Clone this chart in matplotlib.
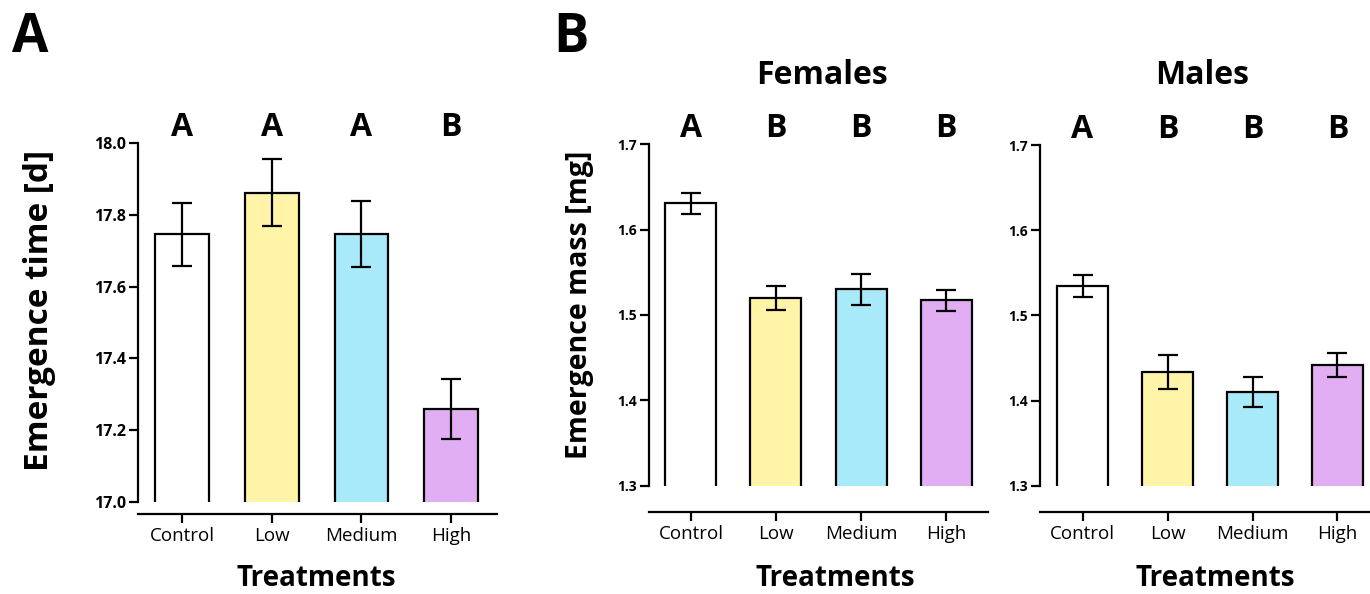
import matplotlib
matplotlib.use("Agg")
import matplotlib.pyplot as plt
import matplotlib.transforms as mtransforms

plt.rcParams['font.family'] = ['Open Sans', 'DejaVu Sans']

treatments = ["Control", "Low", "Medium", "High"]
bar_colors = ["#ffffff", "#fff4a8", "#a8eafa", "#e2aef3"]

# panel A: emergence time
time_mean = [17.746, 17.862, 17.746, 17.258]
time_err = [0.087, 0.093, 0.092, 0.084]
time_letters = ["A", "A", "A", "B"]

# panel B: emergence mass
fem_mean = [1.631, 1.520, 1.530, 1.517]
fem_err = [0.0125, 0.014, 0.018, 0.012]
fem_letters = ["A", "B", "B", "B"]

male_mean = [1.534, 1.433, 1.410, 1.442]
male_err = [0.013, 0.020, 0.018, 0.014]
male_letters = ["A", "B", "B", "B"]

W, H = 1370, 594
fig = plt.figure(figsize=(13.7, 5.94), dpi=100)


def px_axes(x0, x1, ytop, ybot):
    return fig.add_axes([x0 / W, 1 - ybot / H, (x1 - x0) / W, (ybot - ytop) / H])


def draw_panel(ax, means, errs, letters, ylim, yticks, fmt, xlim, offset, ticksize):
    # move the spine first: set_position resets the ticks
    for s in ["top", "right"]:
        ax.spines[s].set_visible(False)
    ax.spines["left"].set_linewidth(1.6)
    ax.spines["bottom"].set_linewidth(1.6)
    ax.spines["bottom"].set_position(("outward", offset))

    x = range(len(means))
    base = ylim[0] - (ylim[1] - ylim[0])
    heights = [m - base for m in means]
    ax.bar(x, heights, bottom=base, width=0.6, color=bar_colors,
           edgecolor="black", linewidth=1.6, zorder=2)
    ax.errorbar(x, means, yerr=errs, fmt="none", ecolor="black",
                elinewidth=1.6, capsize=7.5, capthick=1.6, zorder=3)
    ax.set_ylim(*ylim)
    ax.set_xlim(*xlim)
    ax.set_yticks(yticks)
    ax.set_yticklabels([fmt % v for v in yticks], fontweight="bold", fontsize=ticksize)
    ax.set_xticks(list(x))
    ax.set_xticklabels(treatments, fontsize=13.5)
    ax.tick_params(axis="both", width=1.6, length=6.5, direction="out")
    ax.tick_params(axis="x", pad=3)
    ax.tick_params(axis="y", pad=2)
    trans = mtransforms.blended_transform_factory(ax.transData, ax.transAxes)
    for xi, lt in zip(x, letters):
        ax.text(xi, 1.045, lt, transform=trans, ha="center", va="center",
                fontsize=23, fontweight="bold")
    ax.patch.set_alpha(0)


axA = px_axes(138, 497, 143.3, 501.7)
draw_panel(axA, time_mean, time_err, time_letters, (17.0, 18.0),
           [17.0, 17.2, 17.4, 17.6, 17.8, 18.0], "%.1f", (-0.49, 3.51), 9, 11.5)

axF = px_axes(649, 988, 144.3, 485.7)
draw_panel(axF, fem_mean, fem_err, fem_letters, (1.3, 1.7),
           [1.3, 1.4, 1.5, 1.6, 1.7], "%.1f", (-0.494, 3.494), 19, 10)

axM = px_axes(1040, 1380, 145, 485.7)
draw_panel(axM, male_mean, male_err, male_letters, (1.3, 1.7),
           [1.3, 1.4, 1.5, 1.6, 1.7], "%.1f", (-0.5, 3.5), 19, 10)

# panel labels and titles
fig.text(12 / W, 1 - 38 / H, "A", fontsize=38, fontweight="bold", va="center", ha="left")
fig.text(553 / W, 1 - 38 / H, "B", fontsize=38, fontweight="bold", va="center", ha="left")
fig.text(822 / W, 1 - 75 / H, "Females", fontsize=23, fontweight="bold", ha="center", va="center")
fig.text(1202 / W, 1 - 75 / H, "Males", fontsize=23, fontweight="bold", ha="center", va="center")

# axis titles
fig.text(40 / W, 1 - 310 / H, "Emergence time [d]", rotation=90, fontsize=24,
         fontweight="bold", ha="center", va="center")
fig.text(580 / W, 1 - 305 / H, "Emergence mass [mg]", rotation=90, fontsize=20.5,
         fontweight="bold", ha="center", va="center")
for cx in [316, 835, 1215]:
    fig.text(cx / W, 1 - 579 / H, "Treatments", fontsize=20, fontweight="bold",
             ha="center", va="center")

fig.savefig("out.png", dpi=100)
